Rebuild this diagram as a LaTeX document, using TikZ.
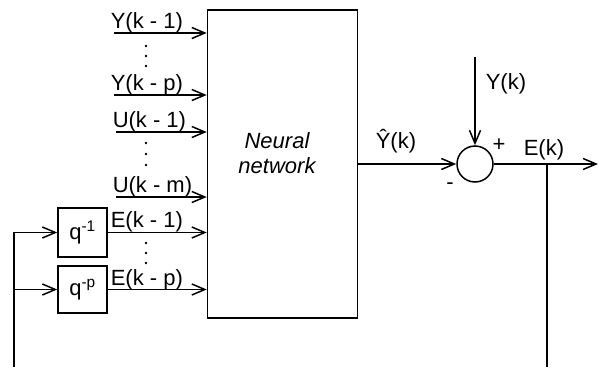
\documentclass[tikz,border=0pt]{standalone}
\usepackage{fontspec}
\setmainfont{Liberation Sans}
\usetikzlibrary{arrows.meta}
\begin{document}
\begin{tikzpicture}[x=1pt,y=-1pt, line width=1.5pt,
 arr/.style={-{Straight Barb[length=13pt,width=11pt]}},
 lbl/.style={font=\fontsize{22}{26}\selectfont, inner sep=0pt, anchor=base west},
 sign/.style={font=\fontsize{22}{26}\selectfont, inner sep=0pt},
 dotc/.style={circle, fill, inner sep=0pt, minimum size=2.6pt},
 blk/.style={draw, inner sep=0pt}]
\useasboundingbox (0,0) rectangle (602,367);
% neural network block
\node[blk, minimum width=150pt, minimum height=308pt] (nn) at (282.5,164) {};
\node[font=\fontsize{22}{25}\selectfont\itshape, align=center, inner sep=0pt] (nntxt) at (277,153) {Neural\\network};
% inputs
\coordinate (y1) at (114,33);
\coordinate (yp) at (114,95);
\coordinate (u1) at (116,132);
\coordinate (um) at (116,197);
\draw[arr] (y1) -- (y1 -| nn.west);
\draw[arr] (yp) -- (yp -| nn.west);
\draw[arr] (u1) -- (u1 -| nn.west);
\draw[arr] (um) -- (um -| nn.west);
\node[lbl] (ly1) at (110,28) {Y(k - 1)};
\node[lbl] (lyp) at (110,90) {Y(k - p)};
\node[lbl] (lu1) at (112,127) {U(k - 1)};
\node[lbl] (lum) at (112,192) {U(k - m)};
% dots
\foreach \yy in {46,56,66,143,154,165,243,253,263} {\node[dotc] at (146,\yy) {};}
% delay blocks
\node[blk, minimum width=49pt, minimum height=49pt, font=\fontsize{22}{26}\selectfont] (q1) at (82.5,232.5) {q\textsuperscript{-1}};
\node[blk, minimum width=49pt, minimum height=47pt, font=\fontsize{22}{26}\selectfont] (qp) at (82.5,289.5) {q\textsuperscript{-p}};
\draw[arr] (q1.east) -- (q1.east -| nn.west);
\draw[arr] (qp.east) -- (qp.east -| nn.west);
\node[lbl] (le1) at (110,227) {E(k - 1)};
\node[lbl] (lep) at (110,285) {E(k - p)};
% feedback
\coordinate (fbb) at (14,367);
\coordinate (fbt) at (14,232.5);
\draw[arr] (fbb) -- (fbt) -- (q1.west);
\draw[arr] (fbb |- qp.west) -- (qp.west);
% summing junction
\node[draw, circle, minimum size=36pt, inner sep=0pt] (sum) at (475,164) {};
\draw[arr] (nn.east |- sum.west) -- (sum.west);
\coordinate (ykt) at (475,57);
\draw[arr] (ykt) -- (sum.north);
\coordinate (out) at (598,164);
\draw[arr] (sum.east) -- (out);
\coordinate (tap) at (547,164);
\coordinate (tapb) at (547,367);
\draw (tap) -- (tapb);
\node[lbl] (lyhat) at (375,148) {\^{Y}(k)};
\node[lbl] (lyk) at (485,89) {Y(k)};
\node[lbl] (lek) at (523,155) {E(k)};
\node[sign] (plus) at (499,145) {+};
\node[sign] (minus) at (450,186) {-};
\end{tikzpicture}
\end{document}
